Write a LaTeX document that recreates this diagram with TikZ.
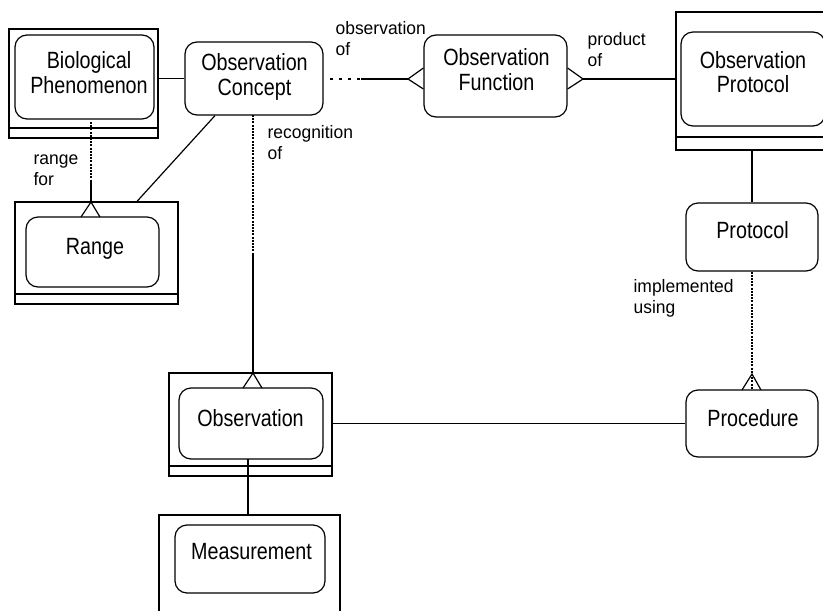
\documentclass[tikz,border=0pt]{standalone}
\usepackage{fontspec}
\setmainfont{Liberation Sans}
\newfontfamily\boxfont[FakeStretch=0.84]{Liberation Sans}
\newfontfamily\lblfont[FakeStretch=0.97]{Liberation Sans}
\usetikzlibrary{calc}
\tikzset{
  outerbox/.style={draw, rectangle, inner sep=0pt},
  entbox/.style={draw, rectangle, rounded corners=12pt, inner sep=0pt},
  boxtext/.style={inner sep=0pt, align=center, font=\boxfont\fontsize{23.5}{24.5}\selectfont},
  lbl/.style={inner sep=0pt, align=left, anchor=base west, font=\lblfont\fontsize{18}{21}\selectfont},
  dotline/.style={dash pattern=on 2pt off 1.2pt},
  sparsedots/.style={dash pattern=on 3pt off 6pt},
}
\begin{document}
\begin{tikzpicture}[x=1pt,y=-1pt,line width=1.2pt]
\useasboundingbox (0,0) rectangle (823,611);
\clip (0,0) rectangle (823,611);

% Biological Phenomenon
\node[outerbox, minimum width=149pt, minimum height=109pt] (bioO) at (83.5,83.5) {};
\node[entbox, minimum width=139pt, minimum height=84pt] (bio) at (84.5,77) {};
\node[boxtext, anchor=base] (bioT) at (89,93) {Biological\\Phenomenon};

% Observation Concept
\node[entbox, minimum width=138pt, minimum height=73pt] (oc) at (254,78.5) {};
\node[boxtext, anchor=base] (ocT) at (254.5,95) {Observation\\Concept};

% Observation Function
\node[entbox, minimum width=143pt, minimum height=82pt] (of) at (495.5,76) {};
\node[boxtext, anchor=base] (ofT) at (496.5,90) {Observation\\Function};

% Observation Protocol
\node[outerbox, minimum width=154pt, minimum height=138pt] (opO) at (753,81) {};
\node[entbox, minimum width=144pt, minimum height=94pt] (op) at (753,79) {};
\node[boxtext, anchor=base] (opT) at (753,92.5) {Observation\\Protocol};

% Protocol
\node[entbox, minimum width=132pt, minimum height=68pt] (prot) at (752,237) {};
\node[boxtext, anchor=base] (protT) at (752.5,238) {Protocol};

% Procedure
\node[entbox, minimum width=132pt, minimum height=67pt] (proc) at (752,423.5) {};
\node[boxtext, anchor=base] (procT) at (753,426.7) {Procedure};

% Range
\node[outerbox, minimum width=163pt, minimum height=102pt] (rangeO) at (96.5,253) {};
\node[entbox, minimum width=133pt, minimum height=70pt] (range) at (92.5,252) {};
\node[boxtext, anchor=base] (rangeT) at (95,254) {Range};

% Observation
\node[outerbox, minimum width=163pt, minimum height=103pt] (obsO) at (250.5,424.5) {};
\node[entbox, minimum width=144pt, minimum height=71pt] (obs) at (251,423.5) {};
\node[boxtext, anchor=base] (obsT) at (250.5,426.7) {Observation};

% Measurement
\node[outerbox, minimum width=181pt, minimum height=110pt] (measO) at (249.5,570) {};
\node[entbox, minimum width=150pt, minimum height=68pt] (meas) at (250,559) {};
\node[boxtext, anchor=base] (measT) at (251.5,559.3) {Measurement};

% separator lines inside outer boxes
\draw (bioO.west |- 0,128) -- (bioO.east |- 0,128);
\draw (opO.west |- 0,137) -- (opO.east |- 0,137);
\draw (rangeO.west |- 0,294) -- (rangeO.east |- 0,294);
\draw (obsO.west |- 0,466) -- (obsO.east |- 0,466);

% labels (anchored at the baseline of the last line)
\node[lbl] (l1) at (335,55) {observation\\of};
\node[lbl] (l2) at (587,66) {product\\of};
\node[lbl] (l3) at (267,159) {recognition\\of};
\node[lbl] (l4) at (33,185) {range\\for};
\node[lbl] (l5) at (633,313) {implemented\\using};

% Biological Phenomenon -- Observation Concept
\draw (oc.west -| bioO.east) -- (oc.west);

% Observation Concept -- Observation Function
\coordinate (ocfA) at (330,79);
\coordinate (ocfB) at (361,79);
\coordinate (ocfC) at (408,79);
\draw[sparsedots] (ocfA) -- (ocfB);
\draw (ocfB) -- (ocfC);
\draw (of.west |- 0,68) -- (ocfC) -- (of.west |- 0,89);

% Observation Function -- Observation Protocol
\coordinate (fpA) at (583,79);
\draw (of.east |- 0,68) -- (fpA) -- (of.east |- 0,89);
\draw (fpA) -- (opO.west |- fpA);

% Observation Protocol -- Protocol
\draw (prot.north |- opO.south) -- (prot.north);

% Protocol -- Procedure
\coordinate (ppA) at (752,374);
\draw[dotline] (prot.south) -- (proc.north);
\draw (742,390) -- (ppA) -- (761,390);

% Observation -- Procedure
\draw (proc.west -| obsO.east) -- (proc.west);

% Observation Concept -- Range
\draw ($(oc.south)+(-39,0)$) -- ($(rangeO.north)+(40.5,0)$);

% Biological Phenomenon -- Range
\coordinate (brA) at (91,180);
\coordinate (brB) at (91,202);
\draw[dotline] (91,122) -- (brA);
\draw (brA) -- (brB);
\draw (81,217) -- (brB) -- (100,217);

% Observation Concept -- Observation
\coordinate (coA) at (253,253);
\coordinate (coB) at (253,373);
\draw[dotline] (253,115) -- (coA);
\draw (coA) -- (coB);
\draw (243,388) -- (coB) -- (262,388);

% Observation -- Measurement
\draw (248,459) -- (measO.north -| 248,0);
\end{tikzpicture}
\end{document}
